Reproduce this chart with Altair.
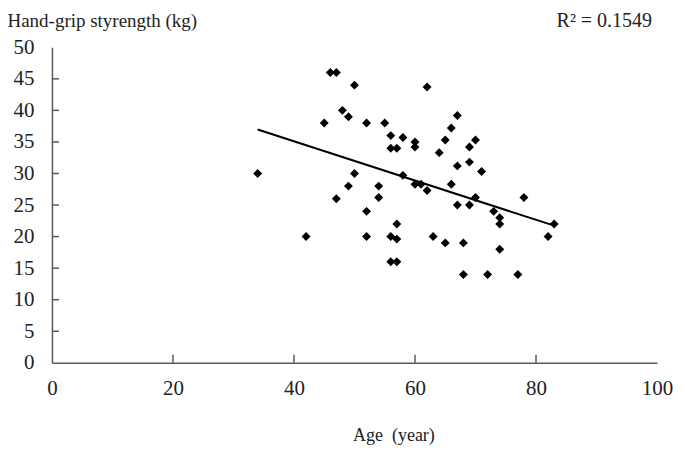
import altair as alt
import pandas as pd

age = [34, 42, 45, 46, 47, 47, 48, 49, 49, 50, 50, 52, 52, 52, 54, 54, 55, 56, 56, 57,
       58, 56, 57, 57, 56, 57, 58, 60, 60, 60, 61, 62, 62, 63, 64, 65, 66, 67, 65, 66,
       67, 67, 68, 68, 69, 69, 70, 71, 69, 70, 72, 73, 74, 74, 74, 77, 78, 82, 83]
grip = [30, 20, 38, 46, 46, 26, 40, 39, 28, 44, 30, 38, 24, 20, 28, 26.2, 38, 36, 34, 34,
        35.7, 20, 19.6, 22, 16, 16, 29.7, 35, 34.2, 28.3, 28.3, 27.3, 43.7, 20, 33.3, 35.3, 37.2, 39.2, 19, 28.3,
        31.2, 25, 19, 14, 34.2, 31.8, 35.3, 30.3, 25, 26.2, 14, 24, 23, 22, 18, 14, 26.2, 20, 22]

x_ticks = [20, 40, 60, 80]
y_ticks = [5, 10, 15, 20, 25, 30, 35, 40, 45]
r2_label = ["R² = 0.1549"]

W, H = 606, 316
FONT = "Liberation Serif"
AXC = "#5a5a5a"
TXT = "#222"

df = pd.DataFrame({"age": age, "grip": grip})

xs = alt.Scale(domain=[0, 100], nice=False)
ys = alt.Scale(domain=[0, 50], nice=False)

x_axis = alt.Axis(values=[0, 20, 40, 60, 80, 100], ticks=False, grid=False,
                  domainColor=AXC, domainWidth=1.5, labelFont=FONT, labelFontSize=21,
                  labelColor=TXT, labelPadding=15, labelFlush=False, labelOverlap=False,
                  title="Age\u00a0\u00a0(year)", titleFont=FONT, titleFontSize=18,
                  titleFontWeight="normal", titleColor=TXT,
                  titleX=342, titleY=78, titleAlign="center", titleBaseline="alphabetic")
y_axis = alt.Axis(values=list(range(0, 55, 5)), ticks=False, grid=False,
                  domainColor=AXC, domainWidth=1.5, labelFont=FONT, labelFontSize=21,
                  labelColor=TXT, labelPadding=18, labelFlush=False, labelOverlap=False,
                  title="Hand-grip styrength (kg)", titleFont=FONT, titleFontSize=19,
                  titleFontWeight="normal", titleColor=TXT, titleAngle=0,
                  titleX=-45, titleY=-21, titleAlign="left", titleBaseline="alphabetic")

base = alt.Chart(df)

points = base.mark_point(shape="diamond", filled=True, color="black", size=80, opacity=1).encode(
    x=alt.X("age:Q", scale=xs, axis=x_axis),
    y=alt.Y("grip:Q", scale=ys, axis=y_axis),
)

fit = base.transform_regression("age", "grip").mark_line(color="black", strokeWidth=2).encode(
    x=alt.X("age:Q", scale=xs, axis=x_axis), y=alt.Y("grip:Q", scale=ys, axis=y_axis))

xt = alt.Chart(pd.DataFrame({"t": x_ticks})).mark_rule(color=AXC, strokeWidth=1.5).encode(
    x=alt.X("t:Q", scale=xs, axis=x_axis), y=alt.value(H), y2=alt.value(H - 8))
yt = alt.Chart(pd.DataFrame({"t": y_ticks})).mark_rule(color=AXC, strokeWidth=1.5).encode(
    y=alt.Y("t:Q", scale=ys, axis=y_axis), x=alt.value(0), x2=alt.value(7))

r2 = alt.Chart(pd.DataFrame({"lab": r2_label})).mark_text(
    font=FONT, fontSize=20, color=TXT, align="right", baseline="alphabetic").encode(
    text="lab:N", x=alt.value(W - 5), y=alt.value(-20))

chart = alt.layer(points, fit, xt, yt, r2).properties(
    width=W, height=H,
    autosize=alt.AutoSizeParams(type="none"),
    padding={"left": 44, "top": 39, "right": 20, "bottom": 82},
).configure_view(stroke=None)

chart.save("out.html", embed_options={"renderer": "svg", "actions": False})
